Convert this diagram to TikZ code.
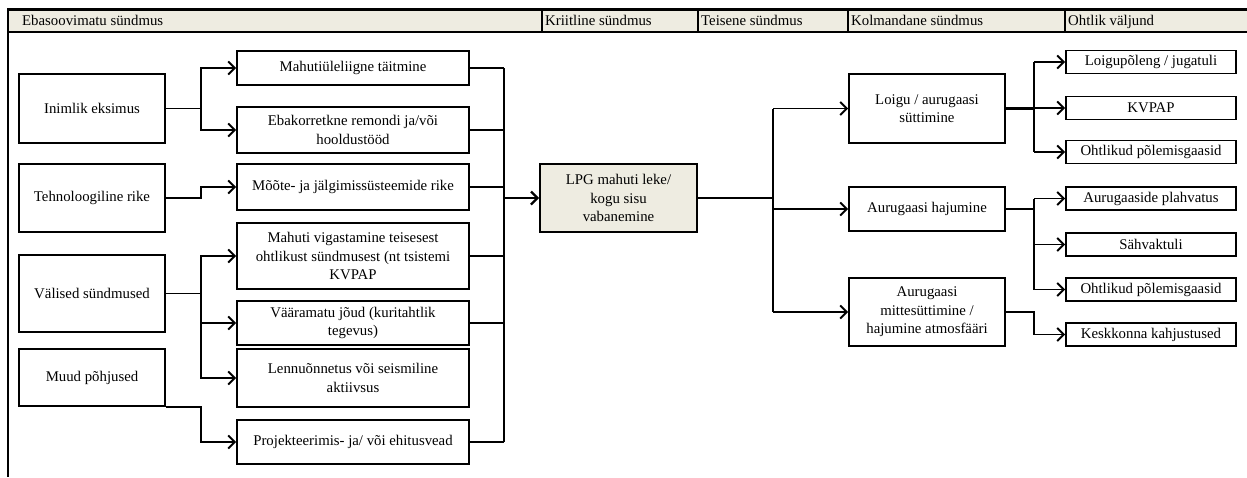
\documentclass[tikz,border=0pt]{standalone}
\usepackage{fontspec}
\setmainfont{Liberation Serif}
\usetikzlibrary{arrows.meta}
\definecolor{paper}{HTML}{EEECE1}
\begin{document}
\begin{tikzpicture}[x=1pt,y=-1pt,
  every node/.style={font=\fontsize{14.8}{18.5}\selectfont, inner sep=0pt, align=center},
  box/.style={draw, line width=1.9pt, fill=white},
  keybox/.style={box, fill=paper},
  link/.style={line width=1.9pt},
  thicklink/.style={line width=2.8pt},
  arr/.style={link, -{Straight Barb[length=6.5pt,width=13pt,line width=1.9pt]}},
  thickarr/.style={thicklink, -{Straight Barb[length=6.5pt,width=13pt,line width=2.2pt]}},
  hdrtext/.style={anchor=base west}
]
\useasboundingbox (0,0) rectangle (1247,477);

% header band with column titles
\fill[paper] (7,9.5) rectangle (1247,32);
\draw[line width=2.2pt] (7,9.5) -- (1247,9.5);
\draw[line width=2.2pt] (7,32) -- (1247,32);
\draw[line width=2pt] (8,9.5) -- (8,477);
\foreach \cx in {542,698,848,1065} \draw[line width=1.3pt] (\cx,9.5) -- (\cx,32);
\node[hdrtext] (h1) at (22,25.5) {Ebasoovimatu sündmus};
\node[hdrtext] (h2) at (545,25.5) {Kriitline sündmus};
\node[hdrtext] (h3) at (701,25.5) {Teisene sündmus};
\node[hdrtext] (h4) at (851,25.5) {Kolmandane sündmus};
\node[hdrtext] (h5) at (1068,25.5) {Ohtlik väljund};

% root causes
\node[box, minimum width=146, minimum height=69] (inim) at (92,108.5) {Inimlik eksimus};
\node[box, minimum width=146, minimum height=68] (tehno) at (92,198) {Tehnoloogiline rike};
\node[box, minimum width=146, minimum height=77] (valis) at (92,293.5) {Välised sündmused};
\node[box, minimum width=146, minimum height=57] (muud) at (92,377.5) {Muud põhjused};

% undesired events
\node[box, minimum width=232, minimum height=34] (yle) at (353,68) {Mahutiüleliigne täitmine};
\node[box, minimum width=232, minimum height=46] (remont) at (353,130) {Ebakorretkne remondi ja/või\\hooldustööd};
\node[box, minimum width=232, minimum height=46] (moote) at (353,187) {Mõõte- ja jälgimissüsteemide rike};
\node[box, minimum width=232, minimum height=66] (vigast) at (353,256) {Mahuti vigastamine teisesest\\ohtlikust sündmusest (nt tsistemi\\KVPAP};
\node[box, minimum width=232, minimum height=44] (joud) at (353,323) {Vääramatu jõud (kuritahtlik\\tegevus)};
\node[box, minimum width=232, minimum height=58] (lennu) at (353,378) {Lennuõnnetus või seismiline\\aktiivsus};
\node[box, minimum width=232, minimum height=44] (proj) at (353,442) {Projekteerimis- ja/ või ehitusvead};

% critical event
\node[keybox, minimum width=157, minimum height=68] (lpg) at (618.5,198) {LPG mahuti leke/\\kogu sisu\\vabanemine};

% secondary events
\node[box, minimum width=156, minimum height=69] (loigu) at (927,108.5) {Loigu / aurugaasi\\süttimine};
\node[box, minimum width=156, minimum height=44] (hajum) at (927,209) {Aurugaasi hajumine};
\node[box, minimum width=156, minimum height=68] (mitte) at (927,312) {Aurugaasi\\mittesüttimine /\\hajumine atmosfääri};

% outcomes
\node[box, minimum width=170, minimum height=23] (o1) at (1151,62) {Loigupõleng / jugatuli};
\node[box, minimum width=170, minimum height=23] (o2) at (1151,108) {KVPAP};
\node[box, minimum width=170, minimum height=23] (o3) at (1151,152) {Ohtlikud põlemisgaasid};
\node[box, minimum width=170, minimum height=23] (o4) at (1151,198.5) {Aurugaaside plahvatus};
\node[box, minimum width=170, minimum height=23] (o5) at (1151,244.5) {Sähvaktuli};
\node[box, minimum width=170, minimum height=23] (o6) at (1151,289.5) {Ohtlikud põlemisgaasid};
\node[box, minimum width=170, minimum height=23] (o7) at (1151,334.5) {Keskkonna kahjustused};

% junction columns
\coordinate (ja) at (201,0);
\coordinate (jb) at (504,0);
\coordinate (jc) at (773,0);
\coordinate (jd) at (1034,0);

% causes to undesired events
\draw[arr] (inim.east) -- (inim.east -| ja) |- (yle.west);
\draw[arr] (inim.east -| ja) |- (remont.west);
\draw[arr] (tehno.east) -- (tehno.east -| ja) |- (moote.west);
\draw[arr] (valis.east) -- (valis.east -| ja) |- (vigast.west);
\draw[arr] (valis.east -| ja) |- (joud.west);
\draw[arr] (valis.east -| ja) |- (lennu.west);
\draw[arr] (muud.south east) -- (muud.south east -| ja) |- (proj.west);

% undesired events collected into the critical event
\foreach \n in {yle,remont,moote,vigast,joud,proj} \draw[link] (\n.east) -- (\n.east -| jb);
\draw[link] (yle.east -| jb) -- (proj.east -| jb);
\draw[thickarr] (lpg.west -| jb) -- (lpg.west);

% critical event to secondary events
\draw[link] (lpg.east) -- (lpg.east -| jc);
\draw[link] (loigu.west -| jc) -- (mitte.west -| jc);
\draw[arr] (loigu.west -| jc) -- (loigu.west);
\draw[arr] (hajum.west -| jc) -- (hajum.west);
\draw[arr] (mitte.west -| jc) -- (mitte.west);

% secondary events to outcomes
\draw[thicklink] (loigu.east) -- (loigu.east -| jd);
\draw[link] (o1.west -| jd) -- (o3.west -| jd);
\foreach \n in {o1,o2,o3} \draw[arr] (\n.west -| jd) -- (\n.west);
\draw[thicklink] (hajum.east) -- (hajum.east -| jd);
\draw[link] (o4.west -| jd) -- (o6.west -| jd);
\foreach \n in {o4,o5,o6} \draw[arr] (\n.west -| jd) -- (\n.west);
\draw[arr] (mitte.east) -- (mitte.east -| jd) |- (o7.west);
\end{tikzpicture}
\end{document}
